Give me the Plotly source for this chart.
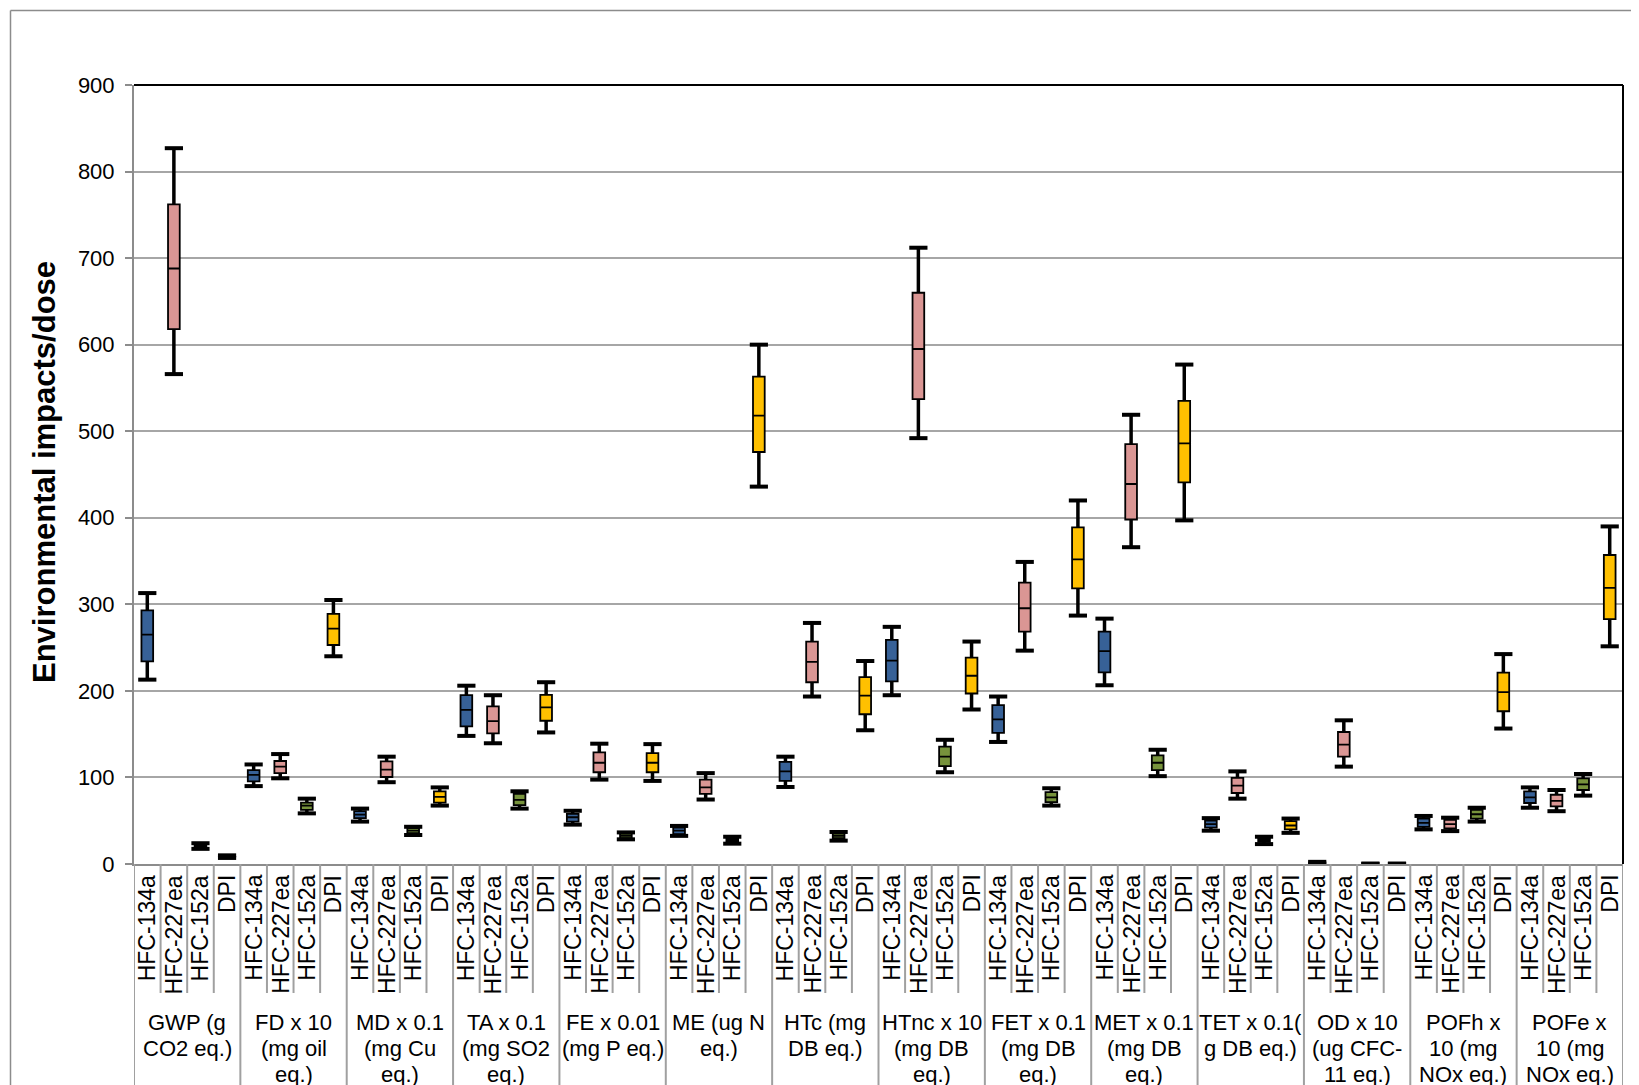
import plotly.graph_objects as go

# ---------------- data ----------------
group_lines = [["GWP (g", "CO2 eq.)"], ["FD x 10", "(mg oil", "eq.)"], ["MD x 0.1", "(mg Cu", "eq.)"],
               ["TA x 0.1", "(mg SO2", "eq.)"], ["FE x 0.01", "(mg P eq.)"], ["ME (ug N", "eq.)"],
               ["HTc (mg", "DB eq.)"], ["HTnc x 10", "(mg DB", "eq.)"], ["FET x 0.1", "(mg DB", "eq.)"],
               ["MET x 0.1", "(mg DB", "eq.)"], ["TET x 0.1(", "g DB eq.)"], ["OD x 10", "(ug CFC-", "11 eq.)"],
               ["POFh x", "10 (mg", "NOx eq.)"], ["POFe x", "10 (mg", "NOx eq.)"]]
series = ["HFC-134a", "HFC-227ea", "HFC-152a", "DPI"]

# each row: [min, q1, median, q3, max]
hfc134a = [[213, 234, 265, 293, 313], [90, 95.5, 103, 108.5, 115], [49, 53, 57, 61, 64],
           [148, 159, 178, 195, 206], [45.5, 49, 54, 58, 61.5], [32.5, 34.5, 38.5, 42, 44],
           [89, 96, 107, 118, 124], [195, 211, 235, 259, 274], [141, 151.5, 167, 183.5, 193.5],
           [206.5, 221.5, 246, 268.5, 283.5], [38.5, 42, 46, 50, 53], [0.5, 1, 1.5, 2, 2.5],
           [40, 43, 47.5, 52.5, 55.5], [65, 70.5, 77, 84, 88.5]]
hfc227ea = [[566, 618, 688, 762, 827], [99, 105, 112.5, 119, 127], [94.5, 100.5, 109, 118.5, 124],
            [139.5, 151, 165, 182, 195], [97.5, 106, 117, 129, 139], [74.5, 81, 88.5, 97.5, 105],
            [193.5, 210, 233.5, 257, 278.5], [492, 537, 595, 660, 712], [246.5, 268.5, 295.5, 325, 349],
            [366, 398, 439, 485, 519], [75.5, 82, 90.5, 99.5, 107], [112.5, 124, 138, 152.5, 166],
            [38, 41, 46, 51, 53.5], [61, 66.5, 73, 80, 85.5]]
hfc152a = [[17.5, 19, 20.5, 22, 24], [58.5, 62.5, 67.5, 71, 75.5], [33.5, 35.5, 38.5, 41.5, 43],
           [64, 68, 74, 81, 84], [28.5, 30, 32.5, 35, 36.5], [23.5, 26, 27.5, 29.5, 31.5],
           [27, 30, 32.5, 35, 37], [106, 113, 124, 135.5, 143.5], [67.5, 71.5, 77, 83, 87.5],
           [101.5, 108.5, 117, 125.5, 132], [23, 25.5, 27.5, 29.5, 31.5], [0.1, 0.2, 0.3, 0.4, 0.5],
           [49, 52.5, 57.5, 62.5, 65], [79, 85.5, 92, 99, 104]]
dpi = [[7, 8, 8.5, 9, 10], [240, 253, 272, 289, 305], [67.5, 71, 77.5, 84, 88.5],
       [152, 165.5, 181, 195.5, 210], [96, 106, 117, 128, 138.5], [436, 476, 518, 563, 600],
       [154.5, 173, 194.5, 216, 234.5], [178.5, 197, 217.5, 238.5, 257], [287, 318.5, 352, 389, 420],
       [397, 441, 486, 535, 577], [36, 40, 44.5, 49.5, 52.5], [0.1, 0.2, 0.3, 0.4, 0.5],
       [156.5, 176.5, 198.5, 221, 242.5], [251.5, 283, 319, 357, 390]]

colors = ["#376197", "#DA9694", "#77933C", "#FFC000"]
y_ticks = [0, 100, 200, 300, 400, 500, 600, 700, 800, 900]
y_title = "Environmental impacts/dose"

# ---------------- layout constants (page pixels; page has an 8px body margin) ----------------
OFF = 8
W, H = 1639 - OFF, 1085 - OFF
PL, PR, PT, PB = 134, 1623, 85, 864          # plot area in page pixels
ML, MR, MT = PL - OFF, (OFF + W) - PR, PT - OFF
MB = (OFF + H) - PB
FONT = "Arial, Liberation Sans, sans-serif"


def px_x(px):
    return (px - PL) / (PR - PL)


def px_y(py):
    return (PB - py) / (PB - PT)


fig = go.Figure()
all_series = [hfc134a, hfc227ea, hfc152a, dpi]
n_sub = len(series)
n_groups = len(group_lines)

for s, (name, data, col) in enumerate(zip(series, all_series, colors)):
    xs = [g * n_sub + s for g in range(n_groups)]
    fig.add_trace(go.Box(
        x=xs,
        lowerfence=[d[1] for d in data], q1=[d[1] for d in data], median=[d[2] for d in data],
        q3=[d[3] for d in data], upperfence=[d[3] for d in data],
        fillcolor=col, line=dict(color="black", width=1.8), width=0.44,
        name=name, showlegend=False, hoverinfo="skip",
    ))
    # whiskers
    wx, wy = [], []
    for x, d in zip(xs, data):
        wx += [x, x, None, x, x, None]
        wy += [d[3], d[4], None, d[1], d[0], None]
    fig.add_trace(go.Scatter(x=wx, y=wy, mode="lines", line=dict(color="black", width=3.5),
                             showlegend=False, hoverinfo="skip"))
    fig.add_trace(go.Scatter(x=xs + xs, y=[d[4] for d in data] + [d[0] for d in data], mode="markers",
                             marker=dict(symbol="line-ew", size=13, line=dict(color="black", width=4)),
                             showlegend=False, hoverinfo="skip"))

n_slots = n_groups * n_sub
shapes = []
annotations = []
# category separators
for k in range(n_slots + 1):
    is_group = (k % n_sub == 0)
    shapes.append(dict(type="line", xref="x", yref="paper", x0=k - 0.5, x1=k - 0.5,
                       y0=0, y1=px_y(1090) if is_group else px_y(993),
                       line=dict(color="#A0A0A0", width=2)))
# sub labels and group labels
line_centers = [1022, 1048, 1074]
for g in range(n_groups):
    for s in range(n_sub):
        annotations.append(dict(x=g * n_sub + s, y=0, xref="x", yref="paper", text=series[s],
                                textangle=-90, showarrow=False, yanchor="top", xanchor="center",
                                yshift=-9, font=dict(family=FONT, size=23, color="black")))
    for li, txt in enumerate(group_lines[g]):
        annotations.append(dict(x=g * n_sub + 1.5, y=px_y(line_centers[li]), xref="x", yref="paper",
                                text=txt, showarrow=False, yanchor="middle", xanchor="center",
                                font=dict(family=FONT, size=22, color="black")))
# y title
annotations.append(dict(x=px_x(44), y=px_y(472), xref="paper", yref="paper", text="<b>" + y_title + "</b>",
                        textangle=-90, showarrow=False, xanchor="center", yanchor="middle",
                        font=dict(family=FONT, size=31, color="black")))
# plot area top/right border
shapes.append(dict(type="line", xref="paper", yref="paper", x0=0, x1=1, y0=1, y1=1,
                   line=dict(color="black", width=2)))
shapes.append(dict(type="line", xref="paper", yref="paper", x0=1, x1=1, y0=0, y1=1,
                   line=dict(color="black", width=2)))
# outer chart border (top & left)
shapes.append(dict(type="line", xref="paper", yref="paper", x0=px_x(10.5), x1=px_x(1645),
                   y0=px_y(10.5), y1=px_y(10.5), line=dict(color="#8C8C8C", width=1.5)))
shapes.append(dict(type="line", xref="paper", yref="paper", x0=px_x(10.5), x1=px_x(10.5),
                   y0=px_y(10.5), y1=px_y(1095), line=dict(color="#8C8C8C", width=1.5)))

fig.update_layout(
    width=W, height=H, margin=dict(l=ML, r=MR, t=MT, b=MB, autoexpand=False),
    paper_bgcolor="white", plot_bgcolor="white",
    font=dict(family=FONT, size=22, color="black"),
    xaxis=dict(range=[-0.5, n_slots - 0.5], showticklabels=False, showgrid=False, zeroline=False,
               showline=True, linecolor="#8C8C8C", linewidth=2, ticks=""),
    yaxis=dict(range=[0, 900], tickvals=y_ticks, showgrid=True, gridcolor="#A6A6A6", gridwidth=2,
               zeroline=False, showline=True, linecolor="#8C8C8C", linewidth=2,
               ticks="outside", ticklen=7, tickwidth=2, tickcolor="#8C8C8C", ticklabelstandoff=6,
               tickfont=dict(family=FONT, size=22, color="black")),
    shapes=shapes, annotations=annotations, showlegend=False,
)

fig.write_html("out.html")
